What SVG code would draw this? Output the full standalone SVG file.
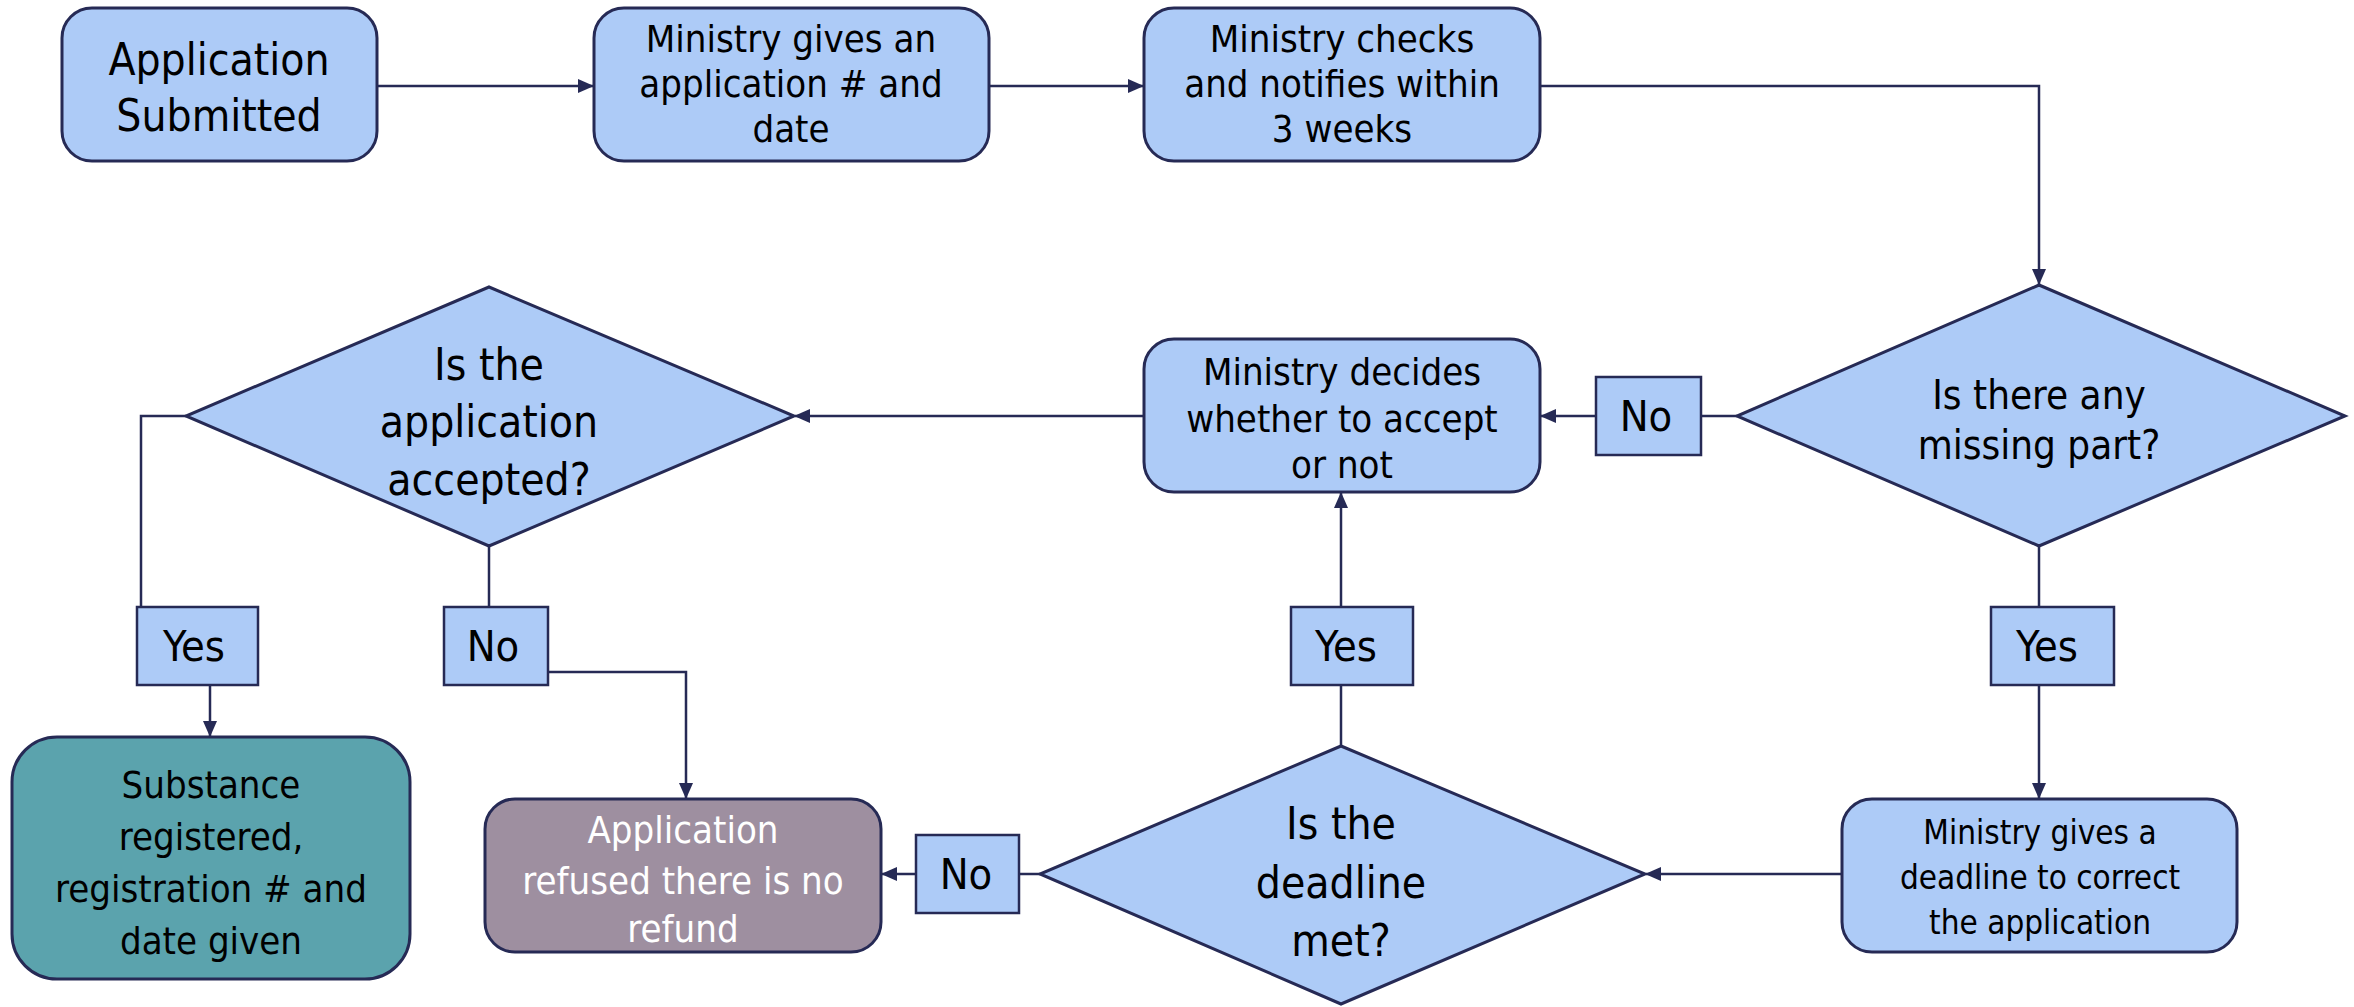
<svg xmlns="http://www.w3.org/2000/svg" width="2354" height="1007" viewBox="0 0 2354 1007">
<defs>
<marker id="ah" markerWidth="16" markerHeight="14" refX="15" refY="7" orient="auto" markerUnits="userSpaceOnUse"><path d="M0,0 L16,7 L0,14 z" fill="#262A55"/></marker>
<style>
.box{fill:#ADCBF7;stroke:#262A55;stroke-width:3}
.lbl{fill:#ADCBF7;stroke:#262A55;stroke-width:2.5}
.dia{fill:#ADCBF7;stroke:#262A55;stroke-width:3}
.t{font-family:"Liberation Sans Narrow","DejaVu Sans Condensed","Liberation Sans",sans-serif;text-anchor:middle;fill:#000}
.w{fill:#fff}
.c{fill:none;stroke:#262A55;stroke-width:2.5}
</style>
</defs>
<g id="connectors">
<path class="c" d="M377,86 H593" marker-end="url(#ah)"/>
<path class="c" d="M989,86 H1143" marker-end="url(#ah)"/>
<path class="c" d="M1540,86 H2039 V284" marker-end="url(#ah)"/>
<path class="c" d="M1737,416 H1701"/>
<path class="c" d="M1596,416 H1541" marker-end="url(#ah)"/>
<path class="c" d="M1144,416 H795" marker-end="url(#ah)"/>
<path class="c" d="M186,416 H141 V607"/>
<path class="c" d="M210,685 V736" marker-end="url(#ah)"/>
<path class="c" d="M489,546 V607"/>
<path class="c" d="M548,672 H686 V798" marker-end="url(#ah)"/>
<path class="c" d="M2039,546 V607"/>
<path class="c" d="M2039,685 V798" marker-end="url(#ah)"/>
<path class="c" d="M1842,874 H1646" marker-end="url(#ah)"/>
<path class="c" d="M1040,874 H1019"/>
<path class="c" d="M916,874 H882" marker-end="url(#ah)"/>
<path class="c" d="M1341,746 V685"/>
<path class="c" d="M1341,607 V493" marker-end="url(#ah)"/>
</g>
<g id="n-submitted">
<rect class="box" x="62" y="8" width="315" height="153" rx="30"/>
<text class="t" font-size="44"><tspan x="219" y="75">Application</tspan><tspan x="219" y="131">Submitted</tspan></text>
</g>
<g id="n-appnum">
<rect class="box" x="594" y="8" width="395" height="153" rx="30"/>
<text class="t" font-size="38"><tspan x="791" y="52">Ministry gives an</tspan><tspan x="791" y="97">application # and</tspan><tspan x="791" y="142">date</tspan></text>
</g>
<g id="n-checks">
<rect class="box" x="1144" y="8" width="396" height="153" rx="30"/>
<text class="t" font-size="38"><tspan x="1342" y="52">Ministry checks</tspan><tspan x="1342" y="97">and notifies within</tspan><tspan x="1342" y="142">3 weeks</tspan></text>
</g>
<g id="n-missing">
<polygon class="dia" points="2039,285 2345,416 2039,546 1737,416"/>
<text class="t" font-size="40"><tspan x="2039" y="409">Is there any</tspan><tspan x="2039" y="459">missing part?</tspan></text>
</g>
<g id="l-no1">
<rect class="lbl" x="1596" y="377" width="105" height="78"/>
<text class="t" font-size="43" x="1646" y="431">No</text>
</g>
<g id="n-decides">
<rect class="box" x="1144" y="339" width="396" height="153" rx="30"/>
<text class="t" font-size="38"><tspan x="1342" y="385">Ministry decides</tspan><tspan x="1342" y="432">whether to accept</tspan><tspan x="1342" y="478">or not</tspan></text>
</g>
<g id="n-accepted">
<polygon class="dia" points="489,287 794,416 489,546 186,416"/>
<text class="t" font-size="44"><tspan x="489" y="380">Is the</tspan><tspan x="489" y="437">application</tspan><tspan x="489" y="495">accepted?</tspan></text>
</g>
<g id="l-yes1">
<rect class="lbl" x="137" y="607" width="121" height="78"/>
<text class="t" font-size="43" x="194" y="661">Yes</text>
</g>
<g id="l-no2">
<rect class="lbl" x="444" y="607" width="104" height="78"/>
<text class="t" font-size="43" x="493" y="661">No</text>
</g>
<g id="n-registered">
<rect class="box" x="12" y="737" width="398" height="242" rx="45" style="fill:#5BA3AD"/>
<text class="t" font-size="38"><tspan x="211" y="798">Substance</tspan><tspan x="211" y="850">registered,</tspan><tspan x="211" y="902">registration # and</tspan><tspan x="211" y="954">date given</tspan></text>
</g>
<g id="n-refused">
<rect class="box" x="485" y="799" width="396" height="153" rx="30" style="fill:#9E8FA0"/>
<text class="t w" font-size="38"><tspan x="683" y="843">Application</tspan><tspan x="683" y="894">refused there is no</tspan><tspan x="683" y="942">refund</tspan></text>
</g>
<g id="l-no3">
<rect class="lbl" x="916" y="835" width="103" height="78"/>
<text class="t" font-size="43" x="966" y="889">No</text>
</g>
<g id="n-deadline-met">
<polygon class="dia" points="1341,746 1645,874 1341,1004 1040,874"/>
<text class="t" font-size="44"><tspan x="1341" y="839">Is the</tspan><tspan x="1341" y="898">deadline</tspan><tspan x="1341" y="956">met?</tspan></text>
</g>
<g id="l-yes2">
<rect class="lbl" x="1291" y="607" width="122" height="78"/>
<text class="t" font-size="43" x="1346" y="661">Yes</text>
</g>
<g id="l-yes3">
<rect class="lbl" x="1991" y="607" width="123" height="78"/>
<text class="t" font-size="43" x="2047" y="661">Yes</text>
</g>
<g id="n-deadline">
<rect class="box" x="1842" y="799" width="395" height="153" rx="30"/>
<text class="t" font-size="33"><tspan x="2040" y="844">Ministry gives a</tspan><tspan x="2040" y="889">deadline to correct</tspan><tspan x="2040" y="934">the application</tspan></text>
</g>
</svg>
